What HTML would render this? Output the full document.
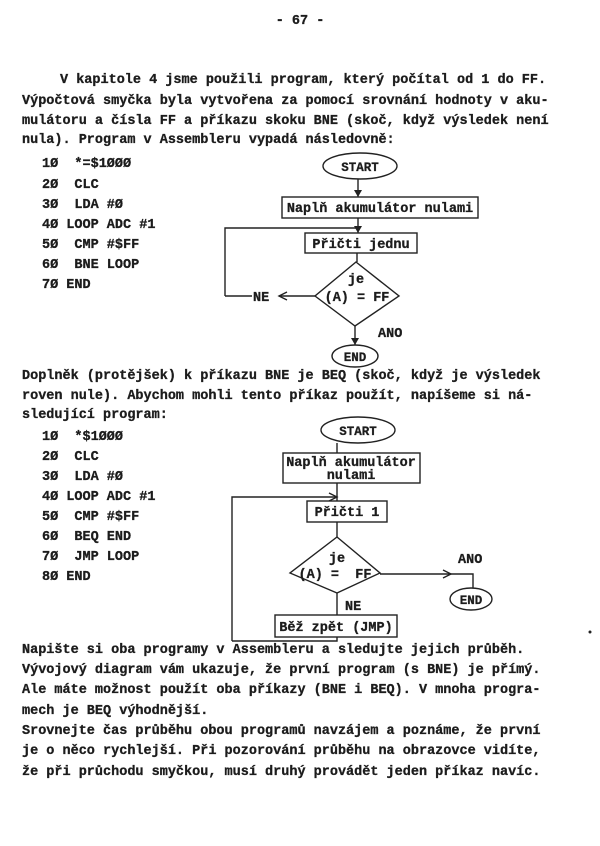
<!DOCTYPE html>
<html><head><meta charset="utf-8"><style>
html,body{margin:0;padding:0;background:#fff;}
svg{display:block;}
text{font-family:"Liberation Mono",monospace;font-weight:bold;font-size:13.5px;fill:#1c1c1c;stroke:#1c1c1c;stroke-width:0.3;white-space:pre;}
.s{fill:none;stroke:#222;stroke-width:1.4;}
.a{fill:#222;stroke:none;}
</style></head><body>
<svg width="600" height="846" viewBox="0 0 600 846" xmlns="http://www.w3.org/2000/svg">
<text x="300" y="24" text-anchor="middle">- 67 -</text>

<text x="60" y="83">V kapitole 4 jsme použili program, který počítal od 1 do FF.</text>
<text x="22" y="104">Výpočtová smyčka byla vytvořena za pomocí srovnání hodnoty v aku-</text>
<text x="22" y="124">mulátoru a čísla FF a příkazu skoku BNE (skoč, když výsledek není</text>
<text x="22" y="143">nula). Program v Assembleru vypadá následovně:</text>

<text x="42" y="167">1Ø  *=$1ØØØ</text>
<text x="42" y="188">2Ø  CLC</text>
<text x="42" y="208">3Ø  LDA #Ø</text>
<text x="42" y="228">4Ø LOOP ADC #1</text>
<text x="42" y="248">5Ø  CMP #$FF</text>
<text x="42" y="268">6Ø  BNE LOOP</text>
<text x="42" y="288">7Ø END</text>

<!-- flowchart 1 -->
<ellipse class="s" cx="360" cy="166" rx="37" ry="13"/>
<text x="360" y="171" text-anchor="middle" style="font-size:12.5px">START</text>
<line class="s" x1="358" y1="179" x2="358" y2="197"/>
<polygon class="a" points="354,190 362,190 358,197"/>
<rect class="s" x="282" y="197" width="196" height="21"/>
<text x="380" y="212" text-anchor="middle">Naplň akumulátor nulami</text>
<line class="s" x1="358" y1="218" x2="358" y2="233"/>
<polyline class="s" points="225,296 225,228 358,228"/>
<polygon class="a" points="354,226 362,226 358,233"/>
<rect class="s" x="305" y="233" width="112" height="20"/>
<text x="361" y="248" text-anchor="middle">Přičti jednu</text>
<line class="s" x1="357" y1="253" x2="357" y2="262"/>
<polygon class="s" points="356,262 399,296 355,326 315,296"/>
<text x="356" y="283" text-anchor="middle">je</text>
<text x="357" y="301" text-anchor="middle">(A) = FF</text>
<line class="s" x1="225" y1="296" x2="252" y2="296"/>
<text x="253" y="301">NE</text>
<line class="s" x1="279" y1="296" x2="315" y2="296"/>
<polyline class="s" points="287,292 279,296 287,300"/>
<line class="s" x1="355" y1="326" x2="355" y2="345"/>
<polygon class="a" points="351,338 359,338 355,345"/>
<text x="378" y="337">ANO</text>
<ellipse class="s" cx="355" cy="356" rx="23" ry="11"/>
<text x="355" y="361" text-anchor="middle" style="font-size:12.5px">END</text>

<text x="22" y="379">Doplněk (protějšek) k příkazu BNE je BEQ (skoč, když je výsledek</text>
<text x="22" y="399">roven nule). Abychom mohli tento příkaz použít, napíšeme si ná-</text>
<text x="22" y="418">sledující program:</text>

<text x="42" y="440">1Ø  *$1ØØØ</text>
<text x="42" y="460">2Ø  CLC</text>
<text x="42" y="480">3Ø  LDA #Ø</text>
<text x="42" y="500">4Ø LOOP ADC #1</text>
<text x="42" y="520">5Ø  CMP #$FF</text>
<text x="42" y="540">6Ø  BEQ END</text>
<text x="42" y="560">7Ø  JMP LOOP</text>
<text x="42" y="580">8Ø END</text>

<!-- flowchart 2 -->
<ellipse class="s" cx="358" cy="430" rx="37" ry="13"/>
<text x="358" y="435" text-anchor="middle" style="font-size:12.5px">START</text>
<line class="s" x1="337" y1="443" x2="337" y2="453"/>
<rect class="s" x="283" y="453" width="137" height="30"/>
<text x="351" y="466" text-anchor="middle">Naplň akumulátor</text>
<text x="351" y="479" text-anchor="middle">nulami</text>
<line class="s" x1="337" y1="483" x2="337" y2="501"/>
<polyline class="s" points="232,641 232,497 337,497"/>
<polyline class="s" points="329,493 337,497 329,501"/>
<rect class="s" x="307" y="501" width="80" height="21"/>
<text x="347" y="516" text-anchor="middle">Přičti 1</text>
<line class="s" x1="337" y1="522" x2="337" y2="537"/>
<polygon class="s" points="337,537 380,573 337,593 290,573"/>
<text x="337" y="562" text-anchor="middle">je</text>
<text x="335" y="578" text-anchor="middle">(A) =  FF</text>
<polyline class="s" points="380,574 473,574 473,588"/>
<polyline class="s" points="443,570 451,574 443,578"/>
<text x="458" y="563">ANO</text>
<ellipse class="s" cx="471" cy="599" rx="21" ry="11"/>
<text x="471" y="604" text-anchor="middle" style="font-size:12.5px">END</text>
<line class="s" x1="337" y1="593" x2="337" y2="615"/>
<text x="345" y="610">NE</text>
<rect class="s" x="275" y="615" width="122" height="22"/>
<text x="336" y="631" text-anchor="middle">Běž zpět (JMP)</text>
<polyline class="s" points="232,641 337,641 337,637"/>

<text x="22" y="653">Napište si oba programy v Assembleru a sledujte jejich průběh.</text>
<text x="22" y="673">Vývojový diagram vám ukazuje, že první program (s BNE) je přímý.</text>
<text x="22" y="693">Ale máte možnost použít oba příkazy (BNE i BEQ). V mnoha progra-</text>
<text x="22" y="714">mech je BEQ výhodnější.</text>
<text x="22" y="734">Srovnejte čas průběhu obou programů navzájem a poznáme, že první</text>
<text x="22" y="754">je o něco rychlejší. Při pozorování průběhu na obrazovce vidíte,</text>
<text x="22" y="775">že při průchodu smyčkou, musí druhý provádět jeden příkaz navíc.</text>
<circle cx="590" cy="632" r="1.5" fill="#222"/>
</svg>
</body></html>
